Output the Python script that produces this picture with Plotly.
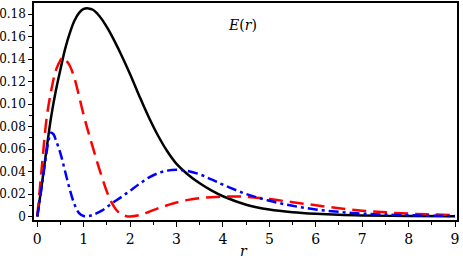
import plotly.graph_objects as go

# r sample positions and curve values
r_black = [0, 0.1, 0.2, 0.3, 0.4, 0.5, 0.6, 0.7, 0.8, 0.9, 1.0, 1.1, 1.2, 1.3, 1.4, 1.5, 1.6, 1.8,
           2.0, 2.2, 2.4, 2.6, 2.8, 3.0, 3.25, 3.5, 3.75, 4.0, 4.5, 5.0, 5.5, 6.0, 6.5, 7.0, 8.0, 9.0]
e_black = [0, 0.029, 0.060, 0.089, 0.112, 0.131, 0.149, 0.163, 0.174, 0.181, 0.1845, 0.185, 0.1838,
           0.1800, 0.1748, 0.1683, 0.1610, 0.1445, 0.1265, 0.1070, 0.0885, 0.0720, 0.0580, 0.0468,
           0.0372, 0.0295, 0.0232, 0.0180, 0.0105, 0.0062, 0.0038, 0.0024, 0.0015, 0.0010, 0.0004,
           0.0002]

r_red = [0, 0.1, 0.2, 0.3, 0.4, 0.5, 0.55, 0.6, 0.7, 0.8, 0.9, 1.0, 1.1, 1.2, 1.3, 1.4, 1.5, 1.6,
         1.7, 1.8, 1.9, 2.0, 2.2, 2.4, 2.6, 2.8, 3.0, 3.25, 3.5, 3.75, 4.0, 4.25, 4.5, 5.0, 5.5, 6.0,
         6.5, 7.0, 7.5, 8.0, 8.5, 9.0]
e_red = [0, 0.045, 0.087, 0.112, 0.130, 0.139, 0.1415, 0.140, 0.134, 0.123, 0.107, 0.090, 0.075,
         0.061, 0.047, 0.034, 0.022, 0.0125, 0.006, 0.0022, 0.0005, 0.0, 0.0012, 0.0040, 0.0072,
         0.0100, 0.0125, 0.0148, 0.0163, 0.0172, 0.0177, 0.0178, 0.0175, 0.0155, 0.0127, 0.0100,
         0.0073, 0.0052, 0.0037, 0.0026, 0.0018, 0.0013]

r_blue = [0, 0.1, 0.2, 0.25, 0.3, 0.35, 0.4, 0.5, 0.6, 0.7, 0.8, 0.9, 1.0, 1.1, 1.2, 1.4, 1.6, 1.8,
          2.0, 2.2, 2.4, 2.6, 2.8, 3.0, 3.2, 3.5, 3.75, 4.0, 4.5, 5.0, 5.5, 6.0, 6.5, 7.0, 7.5, 8.0,
          8.5, 9.0]
e_blue = [0, 0.028, 0.057, 0.069, 0.0745, 0.073, 0.068, 0.056, 0.040, 0.024, 0.011, 0.003, 0.0005,
          0.0003, 0.0015, 0.0055, 0.0115, 0.017, 0.023, 0.029, 0.0345, 0.0385, 0.0408, 0.0415,
          0.0408, 0.0375, 0.0330, 0.0283, 0.0200, 0.0140, 0.0095, 0.0063, 0.0041, 0.0026, 0.0017,
          0.0011, 0.0007, 0.0005]

x_ticks = [0, 1, 2, 3, 4, 5, 6, 7, 8, 9]
y_ticks = [0, 0.02, 0.04, 0.06, 0.08, 0.10, 0.12, 0.14, 0.16, 0.18]
y_tick_labels = ["0", "0.02", "0.04", "0.06", "0.08", "0.10", "0.12", "0.14", "0.16", "0.18"]

SERIF = "'DejaVu Serif', serif"

fig = go.Figure()
fig.add_trace(go.Scatter(x=r_black, y=e_black, mode="lines", line_shape="spline",
                         line=dict(color="black", width=2.5)))
fig.add_trace(go.Scatter(x=r_red, y=e_red, mode="lines", line_shape="spline",
                         line=dict(color="rgb(255,0,0)", width=2.5, dash="14px,7px")))
fig.add_trace(go.Scatter(x=r_blue, y=e_blue, mode="lines", line_shape="spline",
                         line=dict(color="rgb(0,0,255)", width=2.5, dash="10px,4px,3px,4px")))

fig.update_layout(
    width=463, height=262,
    margin=dict(l=34, r=6, t=3, b=42),
    paper_bgcolor="white", plot_bgcolor="white",
    showlegend=False,
    font=dict(family=SERIF, size=12, color="black"),
    xaxis=dict(range=[-0.071, 9.043], tickvals=x_ticks, ticktext=[str(v) for v in x_ticks],
               automargin=False,
               showgrid=False, zeroline=False, showline=True, linecolor="black", linewidth=1.5,
               mirror=True, ticks="outside", ticklen=5, tickwidth=1, tickcolor="black",
               minor=dict(dtick=0.5, ticks="outside", ticklen=3, tickcolor="black"),
               tickfont=dict(family=SERIF, size=14)),
    yaxis=dict(range=[-0.0031, 0.1898], tickvals=y_ticks, ticktext=y_tick_labels,
               automargin=False,
               showgrid=False, zeroline=False, showline=True, linecolor="black", linewidth=1.5,
               mirror=True, ticks="outside", ticklen=4, tickwidth=1, tickcolor="black",
               minor=dict(dtick=0.01, ticks="outside", ticklen=3, tickcolor="black"),
               tickfont=dict(family=SERIF, size=12), ticklabelstandoff=0),
    annotations=[
        dict(text="<i>E</i>(<i>r</i>)", xref="paper", yref="paper", x=0.494, y=0.945,
             showarrow=False, font=dict(family=SERIF, size=14, color="black")),
        dict(text="<i>r</i>", xref="paper", yref="paper", x=0.497, y=-0.145,
             yanchor="middle", showarrow=False, font=dict(family=SERIF, size=14, color="black")),
    ],
)

fig.write_html("out.html", config={"displayModeBar": False},
               post_script="document.body.style.margin='0';")
